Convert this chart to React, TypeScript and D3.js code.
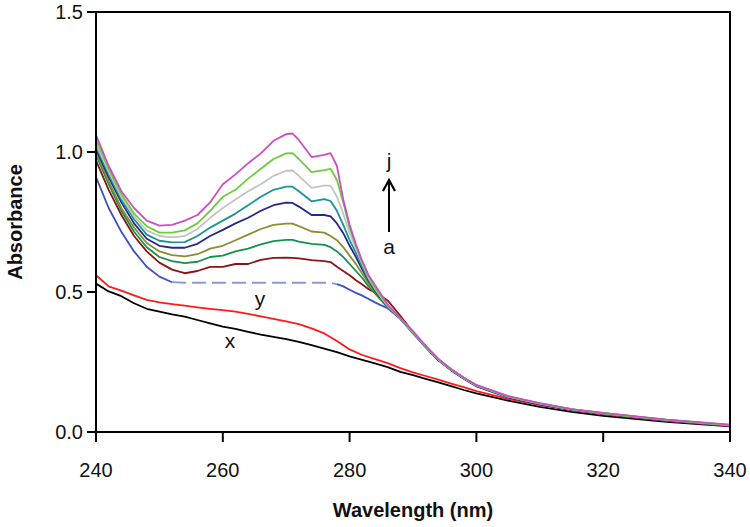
import React from "react";
import * as d3 from "d3";

// ---------- data ----------
const WL = [240, 242, 244, 246, 248, 250, 252, 254, 256, 258, 260, 262, 264, 266, 268, 270, 271, 272, 274, 276, 277, 278, 279, 280, 281, 282, 283, 284, 285, 286, 288, 290, 292, 294, 296, 298, 300, 305, 310, 315, 320, 330, 340];

const curveA = [0.91, 0.80, 0.715, 0.645, 0.59, 0.555, 0.535, 0.533, 0.533, 0.533, 0.533, 0.533, 0.533, 0.533, 0.533, 0.533, 0.533, 0.533, 0.533, 0.533, 0.533, 0.528, 0.52, 0.508, 0.497, 0.487, 0.475, 0.463, 0.452, 0.442, 0.405, 0.352, 0.302, 0.256, 0.22, 0.19, 0.163, 0.123, 0.098, 0.079, 0.065, 0.041, 0.023];
const curveB = [0.97, 0.865, 0.775, 0.70, 0.645, 0.605, 0.58, 0.567, 0.575, 0.59, 0.59, 0.60, 0.60, 0.615, 0.622, 0.623, 0.622, 0.62, 0.614, 0.61, 0.607, 0.59, 0.575, 0.56, 0.542, 0.527, 0.51, 0.498, 0.485, 0.47, 0.415, 0.357, 0.305, 0.258, 0.222, 0.192, 0.165, 0.125, 0.1, 0.08, 0.066, 0.042, 0.024];
const curveC = [0.99, 0.885, 0.79, 0.715, 0.66, 0.625, 0.61, 0.603, 0.608, 0.625, 0.63, 0.645, 0.655, 0.67, 0.682, 0.686, 0.686, 0.68, 0.672, 0.668, 0.66, 0.645, 0.625, 0.60, 0.575, 0.55, 0.52, 0.495, 0.47, 0.445, 0.405, 0.355, 0.304, 0.257, 0.222, 0.191, 0.165, 0.125, 0.1, 0.08, 0.066, 0.042, 0.024];
const curveD = [1.0, 0.895, 0.80, 0.73, 0.675, 0.645, 0.632, 0.627, 0.635, 0.655, 0.665, 0.685, 0.705, 0.725, 0.74, 0.744, 0.744, 0.735, 0.716, 0.712, 0.70, 0.685, 0.66, 0.63, 0.60, 0.565, 0.53, 0.50, 0.472, 0.445, 0.405, 0.355, 0.305, 0.258, 0.223, 0.192, 0.166, 0.126, 0.101, 0.081, 0.066, 0.042, 0.024];
const curveE = [1.01, 0.91, 0.82, 0.745, 0.69, 0.665, 0.658, 0.658, 0.672, 0.70, 0.722, 0.745, 0.765, 0.79, 0.81, 0.819, 0.818, 0.805, 0.775, 0.775, 0.77, 0.745, 0.71, 0.665, 0.625, 0.58, 0.54, 0.505, 0.475, 0.446, 0.405, 0.356, 0.305, 0.258, 0.222, 0.192, 0.165, 0.125, 0.1, 0.08, 0.066, 0.042, 0.024];
const curveF = [1.02, 0.92, 0.83, 0.76, 0.705, 0.683, 0.677, 0.678, 0.70, 0.73, 0.755, 0.78, 0.81, 0.84, 0.865, 0.876, 0.876, 0.86, 0.824, 0.832, 0.825, 0.79, 0.74, 0.685, 0.64, 0.59, 0.545, 0.51, 0.478, 0.448, 0.406, 0.356, 0.306, 0.259, 0.223, 0.193, 0.166, 0.126, 0.101, 0.081, 0.067, 0.043, 0.024];
const curveG = [1.03, 0.93, 0.84, 0.77, 0.72, 0.70, 0.695, 0.70, 0.725, 0.765, 0.80, 0.83, 0.86, 0.885, 0.915, 0.933, 0.934, 0.915, 0.872, 0.88, 0.88, 0.84, 0.78, 0.71, 0.655, 0.60, 0.55, 0.512, 0.48, 0.45, 0.406, 0.357, 0.306, 0.259, 0.223, 0.193, 0.166, 0.126, 0.101, 0.081, 0.067, 0.043, 0.025];
const curveH = [1.045, 0.94, 0.85, 0.78, 0.735, 0.712, 0.712, 0.72, 0.745, 0.79, 0.84, 0.865, 0.905, 0.94, 0.975, 0.995, 0.996, 0.975, 0.928, 0.935, 0.94, 0.90, 0.82, 0.73, 0.665, 0.605, 0.555, 0.515, 0.485, 0.452, 0.407, 0.358, 0.307, 0.26, 0.224, 0.194, 0.167, 0.127, 0.102, 0.082, 0.067, 0.043, 0.025];
const curveJ = [1.06, 0.95, 0.86, 0.80, 0.755, 0.737, 0.74, 0.755, 0.775, 0.82, 0.885, 0.92, 0.96, 0.995, 1.04, 1.064, 1.066, 1.043, 0.982, 0.99, 0.996, 0.95, 0.83, 0.74, 0.67, 0.61, 0.56, 0.525, 0.49, 0.455, 0.408, 0.36, 0.308, 0.261, 0.225, 0.195, 0.168, 0.128, 0.103, 0.082, 0.068, 0.044, 0.026];

const WL_XY = [240, 242, 244, 246, 248, 250, 252, 254, 256, 258, 260, 262, 264, 266, 268, 270, 272, 274, 276, 278, 280, 282, 284, 286, 288, 290, 292, 294, 296, 298, 300, 305, 310, 315, 320, 330, 340];
const curveX = [0.53, 0.502, 0.485, 0.46, 0.44, 0.43, 0.42, 0.412, 0.40, 0.388, 0.376, 0.368, 0.358, 0.348, 0.34, 0.332, 0.322, 0.31, 0.298, 0.285, 0.27, 0.258, 0.245, 0.232, 0.215, 0.203, 0.19, 0.177, 0.164, 0.15, 0.138, 0.112, 0.09, 0.072, 0.058, 0.036, 0.02];
const curveY = [0.56, 0.52, 0.505, 0.488, 0.472, 0.463, 0.457, 0.451, 0.445, 0.44, 0.435, 0.43, 0.422, 0.413, 0.404, 0.395, 0.385, 0.37, 0.352, 0.325, 0.295, 0.275, 0.26, 0.246, 0.228, 0.213, 0.2, 0.187, 0.173, 0.16, 0.146, 0.118, 0.096, 0.078, 0.063, 0.04, 0.022];

const DASH_FROM = 252;
const DASH_TO = 278;

const X_TICKS = [240, 260, 280, 300, 320, 340];
const Y_TICKS = [0.0, 0.5, 1.0, 1.5];

const SERIES = [
  { name: "b", values: curveB, color: "#8b1414" },
  { name: "c", values: curveC, color: "#13924a" },
  { name: "d", values: curveD, color: "#8c8c30" },
  { name: "e", values: curveE, color: "#22288c" },
  { name: "f", values: curveF, color: "#1c9494" },
  { name: "g", values: curveG, color: "#c4c4c4" },
  { name: "h", values: curveH, color: "#6ccc3c" },
  { name: "j", values: curveJ, color: "#c850c0" },
];

// ---------- layout ----------
const W = 750;
const H = 527;
const L = 96;
const R = 730;
const T = 12;
const B = 432;
const FONT = "Liberation Sans, Arial, Helvetica, sans-serif";

export default function App() {
  const x = d3.scaleLinear().domain([240, 340]).range([L, R]);
  const y = d3.scaleLinear().domain([0, 1.5]).range([B, T]);
  const line = d3
    .line<[number, number]>()
    .x((d) => x(d[0]))
    .y((d) => y(d[1]));

  const pts = (ws: number[], vs: number[]) => ws.map((w, i) => [w, vs[i]] as [number, number]);
  const aPts = pts(WL, curveA);
  const aSolid1 = aPts.filter((p) => p[0] <= DASH_FROM);
  const aDash = aPts.filter((p) => p[0] >= DASH_FROM && p[0] <= DASH_TO);
  const aSolid2 = aPts.filter((p) => p[0] >= DASH_TO);

  const ax = 389;
  const aTop = 180;
  const aBot = 232;

  return (
    <svg width={W} height={H} style={{ position: "absolute", left: 0, top: 0, background: "#fff" }} fontFamily={FONT}>
      <defs>
        <clipPath id="plot">
          <rect x={L} y={T} width={R - L} height={B - T} />
        </clipPath>
      </defs>

      <g clipPath="url(#plot)" fill="none" strokeWidth={1.8} strokeLinejoin="round">
        <path d={line(pts(WL_XY, curveX)) || ""} stroke="#000" />
        <path d={line(pts(WL_XY, curveY)) || ""} stroke="#ff1a1a" />
        <path d={line(aSolid1) || ""} stroke="#3a50c4" />
        <path d={line(aDash) || ""} stroke="#8a96dc" strokeDasharray="14 6" />
        <path d={line(aSolid2) || ""} stroke="#3a50c4" />
        {SERIES.map((s) => (
          <path key={s.name} d={line(pts(WL, s.values)) || ""} stroke={s.color} />
        ))}
      </g>

      {/* frame */}
      <rect x={L} y={T} width={R - L} height={B - T} fill="none" stroke="#000" strokeWidth={2} />

      {/* x ticks */}
      {X_TICKS.map((t) => (
        <g key={t}>
          <line x1={x(t)} x2={x(t)} y1={B} y2={B + 10} stroke="#000" strokeWidth={2} />
          <text x={x(t)} y={B + 45} textAnchor="middle" fontSize={20} fill="#111">
            {t}
          </text>
        </g>
      ))}
      {/* y ticks */}
      {Y_TICKS.map((t) => (
        <g key={t}>
          <line x1={L - 9} x2={L} y1={y(t)} y2={y(t)} stroke="#000" strokeWidth={2} />
          <text x={L - 13} y={y(t) + 7} textAnchor="end" fontSize={20} fill="#111">
            {t.toFixed(1)}
          </text>
        </g>
      ))}

      {/* axis titles */}
      <text x={(L + R) / 2} y={517} textAnchor="middle" fontSize={20} fontWeight="bold" fill="#111">
        Wavelength (nm)
      </text>
      <text transform={`translate(22, ${(T + B) / 2}) rotate(-90)`} textAnchor="middle" fontSize={20} fontWeight="bold" fill="#111">
        Absorbance
      </text>

      {/* annotations */}
      <text x={ax} y={168} textAnchor="middle" fontSize={21} fill="#111">j</text>
      <line x1={ax} y1={aBot} x2={ax} y2={aTop + 2} stroke="#000" strokeWidth={2} />
      <path d={`M${ax - 6},${aTop + 11} L${ax},${aTop} L${ax + 6},${aTop + 11}`} fill="none" stroke="#000" strokeWidth={2.2} strokeLinejoin="miter" />
      <text x={ax} y={254} textAnchor="middle" fontSize={21} fill="#111">a</text>
      <text x={260} y={306} textAnchor="middle" fontSize={21} fill="#111">y</text>
      <text x={230} y={348} textAnchor="middle" fontSize={21} fill="#111">x</text>
    </svg>
  );
}
